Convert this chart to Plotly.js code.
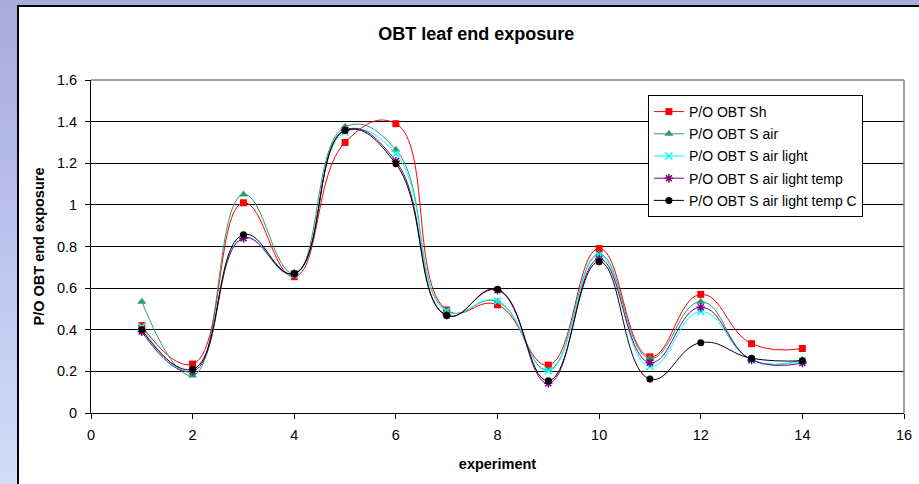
<!DOCTYPE html>
<html>
<head>
<meta charset="utf-8">
<script src="https://cdn.plot.ly/plotly-3.0.1.min.js"></script>
<style>
  html, body { margin: 0; padding: 0; width: 919px; height: 484px; overflow: hidden;
    background: linear-gradient(to bottom, #a7abdc 0%, #bcc3ec 50%, #d3dcfa 100%); }
  #frame { position: absolute; left: 17px; top: 5px; width: 920px; height: 490px;
    background: #ffffff; border-left: 2px solid #000; border-top: 2px solid #000; }
  #chart { position: absolute; left: 0; top: 0; width: 900px; height: 477px; }
</style>
</head>
<body>
<div id="frame"><div id="chart"></div></div>
<script>
// Experiment numbers
const experiments = [1, 2, 3, 4, 5, 6, 7, 8, 9, 10, 11, 12, 13, 14];

// P/O OBT end exposure per configuration
const obtSh            = [0.42, 0.235, 1.01, 0.655, 1.30, 1.39, 0.495, 0.52, 0.23, 0.79, 0.27, 0.57, 0.333, 0.31];
const obtSAir          = [0.535, 0.18, 1.05, 0.67, 1.375, 1.265, 0.49, 0.535, 0.207, 0.763, 0.262, 0.535, 0.255, 0.255];
const obtSAirLight     = [0.415, 0.20, 0.843, 0.665, 1.35, 1.245, 0.49, 0.538, 0.203, 0.758, 0.223, 0.487, 0.255, 0.25];
const obtSAirLightTemp = [0.39, 0.20, 0.84, 0.67, 1.36, 1.21, 0.47, 0.59, 0.143, 0.74, 0.242, 0.508, 0.255, 0.24];
const obtSAirLightTempC= [0.40, 0.21, 0.857, 0.67, 1.357, 1.197, 0.468, 0.594, 0.155, 0.727, 0.163, 0.338, 0.263, 0.251];

const seriesNames = ['P/O OBT Sh', 'P/O OBT S air', 'P/O OBT S air light',
                     'P/O OBT S air light temp', 'P/O OBT S air light temp C'];

const yTickVals = [0, 0.2, 0.4, 0.6, 0.8, 1, 1.2, 1.4, 1.6];
const yTickText = ['0', '0.2', '0.4', '0.6', '0.8', '1', '1.2', '1.4', '1.6'];
const xTickVals = [0, 2, 4, 6, 8, 10, 12, 14, 16];

const font = 'Liberation Sans, Arial, sans-serif';

function series(name, y, color, symbol, size, lw) {
  return {
    type: 'scatter', mode: 'lines+markers', name: name, legendgroup: name,
    x: experiments, y: y,
    line: { color: color, width: 1, shape: 'spline', smoothing: 1.3 },
    marker: { color: color, symbol: symbol, size: size, line: { color: color, width: lw } }
  };
}

const traces = [
  series(seriesNames[0], obtSh, '#ff0000', 'square', 7, 0),
  series(seriesNames[1], obtSAir, '#339966', 'triangle-up', 8, 0),
  series(seriesNames[2], obtSAirLight, '#00ffff', 'x-thin-open', 7, 1.5),
  series(seriesNames[3], obtSAirLightTemp, '#800080', 'asterisk-open', 7, 1.5),
  series(seriesNames[4], obtSAirLightTempC, '#000000', 'circle', 7, 0)
];

const layout = {
  width: 900, height: 477,
  margin: { l: 72, r: 15, t: 73, b: 71 },
  paper_bgcolor: '#ffffff', plot_bgcolor: '#ffffff',
  font: { family: font, size: 14, color: '#000' },
  title: { text: '<b>OBT leaf end exposure</b>', font: { family: font, size: 18, color: '#000' },
           x: 0.508, xanchor: 'center', y: 0.945, yanchor: 'middle', xref: 'container', yref: 'container' },
  xaxis: {
    range: [0, 16], tickvals: xTickVals, ticks: 'outside', ticklen: 5, tickcolor: '#000',
    showline: true, linecolor: '#000', linewidth: 1, showgrid: false, zeroline: false,
    tickfont: { family: font, size: 14.5 }, ticklabelstandoff: 4,
    title: { text: '<b>experiment</b>', font: { family: font, size: 14.5 }, standoff: 16 }
  },
  yaxis: {
    range: [0, 1.6], tickvals: yTickVals, ticktext: yTickText, ticks: 'outside', ticklen: 5, tickcolor: '#000',
    showline: true, linecolor: '#000', linewidth: 1, showgrid: true, gridcolor: '#000', gridwidth: 1,
    zeroline: false, tickfont: { family: font, size: 14.5 }, ticklabelstandoff: 5,
    title: { text: '<b>P/O OBT end exposure</b>', font: { family: font, size: 14.5 }, standoff: 8 }
  },
  shapes: [
    { type: 'line', xref: 'paper', yref: 'paper', x0: 0, x1: 1, y0: 1, y1: 1, line: { color: '#808080', width: 1.5 } },
    { type: 'line', xref: 'paper', yref: 'paper', x0: 1, x1: 1, y0: 0, y1: 1, line: { color: '#808080', width: 1.5 } }
  ],
  legend: {
    x: 0.685, y: 0.955, xanchor: 'left', yanchor: 'top',
    bgcolor: '#ffffff', bordercolor: '#000', borderwidth: 1,
    font: { family: font, size: 14, color: '#000' }, tracegroupgap: 1
  },
  showlegend: true
};

Plotly.newPlot('chart', traces, layout, { displayModeBar: false, staticPlot: true });
</script>
</body>
</html>
